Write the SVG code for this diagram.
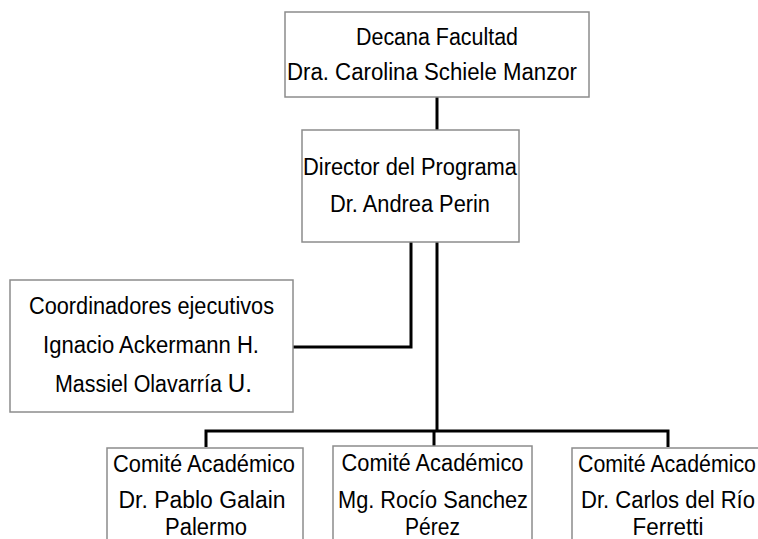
<svg xmlns="http://www.w3.org/2000/svg" width="758" height="539" viewBox="0 0 758 539">
<style>
.box{fill:#ffffff;stroke:#8c8c8c;stroke-width:1.5}
.t{font-family:"Liberation Sans",Arial,sans-serif;font-size:23px;fill:#000;text-anchor:middle}
.c{fill:none;stroke:#000;stroke-width:3}
</style>
<rect width="758" height="539" fill="#fff"/>
<g id="connectors">
<path class="c" d="M437 97V130"/>
<path class="c" d="M411 242V347H293"/>
<path class="c" d="M437 242V431"/>
<path class="c" d="M206 447V431H668V447"/>
<path class="c" d="M434 431V446"/>
</g>
<g id="decana">
<rect class="box" x="285" y="12" width="304" height="85"/>
<text class="t" x="437" y="45" textLength="162" lengthAdjust="spacingAndGlyphs">Decana Facultad</text>
<text class="t" x="432" y="80" textLength="290" lengthAdjust="spacingAndGlyphs">Dra. Carolina Schiele Manzor</text>
</g>
<g id="director">
<rect class="box" x="302" y="130" width="217" height="112"/>
<text class="t" x="410" y="175" textLength="214" lengthAdjust="spacingAndGlyphs">Director del Programa</text>
<text class="t" x="410" y="212" textLength="160" lengthAdjust="spacingAndGlyphs">Dr. Andrea Perin</text>
</g>
<g id="coordinadores">
<rect class="box" x="10" y="280" width="283" height="132"/>
<text class="t" x="151.5" y="314" textLength="245" lengthAdjust="spacingAndGlyphs">Coordinadores ejecutivos</text>
<text class="t" x="151" y="353" textLength="216" lengthAdjust="spacingAndGlyphs">Ignacio Ackermann H.</text>
<text class="t" x="153.5" y="392" textLength="197" lengthAdjust="spacingAndGlyphs">Massiel Olavarría <tspan font-size="26">U.</tspan></text>
</g>
<g id="comite1">
<rect class="box" x="107" y="448" width="196" height="100"/>
<text class="t" x="204" y="472" textLength="182" lengthAdjust="spacingAndGlyphs">Comité Académico</text>
<text class="t" x="202" y="508" textLength="167" lengthAdjust="spacingAndGlyphs">Dr. Pablo Galain</text>
<text class="t" x="206" y="535" textLength="82" lengthAdjust="spacingAndGlyphs">Palermo</text>
</g>
<g id="comite2">
<rect class="box" x="333" y="446" width="199" height="100"/>
<text class="t" x="432.5" y="471" textLength="182" lengthAdjust="spacingAndGlyphs">Comité Académico</text>
<text class="t" x="433" y="508" textLength="190" lengthAdjust="spacingAndGlyphs">Mg. Rocío Sanchez</text>
<text class="t" x="432.5" y="535" textLength="55" lengthAdjust="spacingAndGlyphs">Pérez</text>
</g>
<g id="comite3">
<rect class="box" x="572" y="448" width="194" height="100"/>
<text class="t" x="667" y="472" textLength="178" lengthAdjust="spacingAndGlyphs">Comité Académico</text>
<text class="t" x="668" y="508" textLength="174" lengthAdjust="spacingAndGlyphs">Dr. Carlos del Río</text>
<text class="t" x="668" y="535" textLength="71" lengthAdjust="spacingAndGlyphs">Ferretti</text>
</g>
</svg>
